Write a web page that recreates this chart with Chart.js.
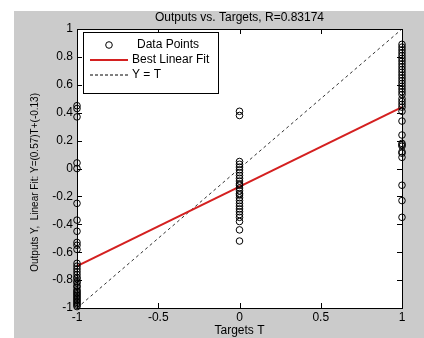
<!DOCTYPE html>
<html>
<head>
<meta charset="utf-8">
<script src="https://cdn.jsdelivr.net/npm/chart.js@4/dist/chart.umd.min.js"></script>
<style>
  body { margin: 0; background: #fff; }
  #regresion { display: block; }
</style>
</head>
<body>
<canvas id="regresion" width="424" height="338"></canvas>
<script>
'use strict';
// valores
var objetivos      = [-1, 0, 1],
    salidasMenosUno = [0.45, 0.43, 0.37, 0.04, 0.0, -0.25, -0.37, -0.45, -0.53, -0.55, -0.58,
                       -0.68, -0.70, -0.72, -0.74, -0.76, -0.78, -0.79, -0.81, -0.82, -0.84,
                       -0.85, -0.87, -0.88, -0.89, -0.90, -0.91, -0.92, -0.93, -0.94, -0.95,
                       -0.96, -0.97, -0.98, -0.99],
    salidasCero     = [0.41, 0.38, 0.05, 0.03, 0.01, -0.01, -0.03, -0.05, -0.07, -0.09, -0.11,
                       -0.12, -0.14, -0.16, -0.18, -0.19, -0.21, -0.23, -0.25, -0.27, -0.29,
                       -0.31, -0.33, -0.35, -0.38, -0.44, -0.52],
    salidasUno      = [0.89, 0.87, 0.85, 0.83, 0.81, 0.79, 0.77, 0.75, 0.73, 0.71, 0.69, 0.67,
                       0.65, 0.63, 0.61, 0.59, 0.57, 0.55, 0.53, 0.50, 0.48, 0.46, 0.44, 0.41,
                       0.34, 0.24, 0.18, 0.17, 0.16, 0.12, 0.11, 0.08, -0.12, -0.23, -0.35];

var ajusteX  = [-1, 1],
    ajusteY  = [-0.70, 0.44],
    identX   = [-1, 1],
    identY   = [-1, 1];

var ticksX = [-1, -0.5, 0, 0.5, 1],
    ticksY = [-1, -0.8, -0.6, -0.4, -0.2, 0, 0.2, 0.4, 0.6, 0.8, 1];

var leyenda = ['Data Points', 'Best Linear Fit', 'Y = T'];

var fuente = "'Liberation Sans', Arial, sans-serif";

var puntos = [];
[salidasMenosUno, salidasCero, salidasUno].forEach(function (col, i) {
    col.forEach(function (v) { puntos.push({ x: objetivos[i], y: v }); });
});

function pares(xs, ys) {
    return xs.map(function (x, i) { return { x: x, y: ys[i] }; });
}

function etiqueta(v) {
    return String(Math.round(v * 10) / 10);
}

var fondoPlugin = {
    id : 'fondo',
    beforeDraw : function (chart) {
        var ctx = chart.ctx, a = chart.chartArea;
        ctx.save();
        ctx.fillStyle = '#ffffff';
        ctx.fillRect(0, 0, chart.width, chart.height);
        ctx.fillStyle = '#cbcbcb';
        ctx.fillRect(14, 11, chart.width - 14, chart.height - 11);
        ctx.fillStyle = '#ffffff';
        ctx.fillRect(a.left, a.top, a.right - a.left, a.bottom - a.top);
        ctx.restore();
    },
    afterDatasetsDraw : function (chart) {
        var ctx = chart.ctx, a = chart.chartArea,
            sx = chart.scales.x, sy = chart.scales.y, lt = 5;
        ctx.save();
        ctx.strokeStyle = '#000';
        ctx.lineWidth = 1;
        ctx.setLineDash([]);
        ctx.strokeRect(Math.round(a.left) + 0.5, Math.round(a.top) + 0.5,
                       Math.round(a.right - a.left), Math.round(a.bottom - a.top));
        ctx.beginPath();
        ticksX.forEach(function (t) {
            var px = Math.round(sx.getPixelForValue(t)) + 0.5;
            ctx.moveTo(px, a.bottom); ctx.lineTo(px, a.bottom - lt);
            ctx.moveTo(px, a.top);    ctx.lineTo(px, a.top + lt);
        });
        ticksY.forEach(function (t) {
            var py = Math.round(sy.getPixelForValue(t)) + 0.5;
            ctx.moveTo(a.left, py);  ctx.lineTo(a.left + lt, py);
            ctx.moveTo(a.right, py); ctx.lineTo(a.right - lt, py);
        });
        ctx.stroke();

        // leyenda dentro del area
        var lx = a.left + 6, ly = a.top + 3, lw = 135, lh = 61;
        ctx.fillStyle = '#fff';
        ctx.fillRect(lx, ly, lw, lh);
        ctx.strokeRect(Math.round(lx) + 0.5, Math.round(ly) + 0.5, lw, lh);
        ctx.font = '12px ' + fuente;
        ctx.fillStyle = '#000';
        ctx.textBaseline = 'middle';
        ctx.textAlign = 'left';
        var filas = [ly + 13, ly + 28, ly + 43];
        ctx.beginPath();
        ctx.arc(lx + 26, filas[0], 3.3, 0, Math.PI * 2);
        ctx.stroke();
        ctx.fillText(leyenda[0], lx + 54, filas[0]);
        ctx.strokeStyle = '#d42020';
        ctx.lineWidth = 2;
        ctx.beginPath();
        ctx.moveTo(lx + 7, filas[1]); ctx.lineTo(lx + 45, filas[1]);
        ctx.stroke();
        ctx.fillText(leyenda[1], lx + 49, filas[1]);
        ctx.strokeStyle = '#000';
        ctx.lineWidth = 1;
        ctx.setLineDash([3, 2]);
        ctx.beginPath();
        ctx.moveTo(lx + 7, filas[2]); ctx.lineTo(lx + 45, filas[2]);
        ctx.stroke();
        ctx.setLineDash([]);
        ctx.fillText(leyenda[2], lx + 49, filas[2]);
        ctx.restore();
    }
};

var datosRegresion = {
    type : 'scatter',
    data : {
        datasets : [{
            label           : leyenda[0],
            data            : puntos,
            clip            : false,
            pointStyle      : 'circle',
            pointRadius     : 3.3,
            borderWidth     : 1,
            borderColor     : '#000',
            backgroundColor : 'rgba(0,0,0,0)'
        }, {
            type        : 'line',
            label       : leyenda[1],
            data        : pares(ajusteX, ajusteY),
            borderColor : '#d42020',
            borderWidth : 2,
            pointRadius : 0
        }, {
            type        : 'line',
            label       : leyenda[2],
            data        : pares(identX, identY),
            borderColor : '#333',
            borderWidth : 1,
            borderDash  : [3, 3],
            pointRadius : 0
        }]
    },
    options : {
        responsive : false,
        animation  : false,
        layout     : { padding : { left : 0, right : 22, top : 0, bottom : 0 } },
        plugins    : {
            legend  : { display : false },
            tooltip : { enabled : false },
            title   : {
                display  : true,
                fullSize : false,
                text     : 'Outputs vs. Targets, R=0.83174',
                color    : '#000',
                font     : { size : 12, family : fuente, weight : 'normal' },
                padding  : { top : 10.8, bottom : 3.8 }
            }
        },
        scales : {
            x : {
                type   : 'linear',
                min    : -1,
                max    : 1,
                border : { display : false },
                grid   : { display : false, drawTicks : false },
                afterBuildTicks : function (s) { s.ticks = ticksX.map(function (v) { return { value : v }; }); },
                afterFit : function (s) { s.height = 30; },
                ticks  : {
                    padding  : 2,
                    color    : '#000',
                    font     : { size : 12, family : fuente },
                    callback : etiqueta
                },
                title : {
                    display : true,
                    text    : 'Targets T',
                    color   : '#000',
                    font    : { size : 12, family : fuente },
                    padding : { top : 0, bottom : 0.5 }
                }
            },
            y : {
                type   : 'linear',
                min    : -1,
                max    : 1,
                border : { display : false },
                grid   : { display : false, drawTicks : false },
                afterBuildTicks : function (s) { s.ticks = ticksY.map(function (v) { return { value : v }; }); },
                afterFit : function (s) { s.width = 77; },
                ticks  : {
                    padding  : 4,
                    color    : '#000',
                    font     : { size : 12, family : fuente },
                    callback : etiqueta
                },
                title : {
                    display : true,
                    text    : 'Outputs Y,  Linear Fit: Y=(0.57)T+(-0.13)          ',
                    color   : '#000',
                    font    : { size : 10, family : fuente },
                    padding : { top : 29, bottom : 0 }
                }
            }
        }
    },
    plugins : [fondoPlugin]
};

var lienzo = document.getElementById('regresion').getContext('2d');
window.regresion = new Chart(lienzo, datosRegresion);
</script>
</body>
</html>
